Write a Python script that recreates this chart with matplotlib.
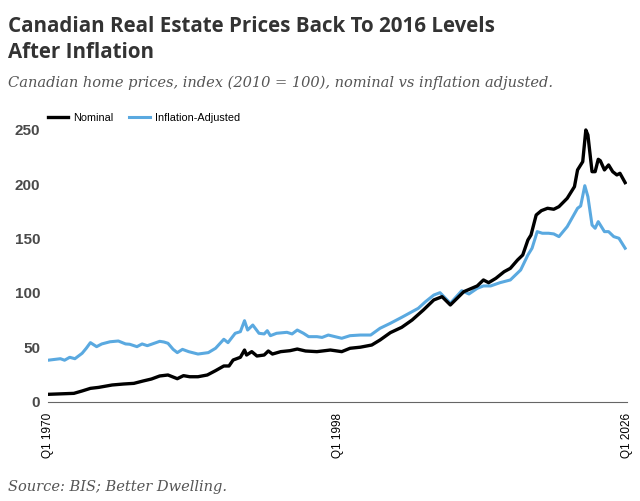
import matplotlib.pyplot as plt

# nominal index (2010 = 100)
nom_t = [1970.0, 1972.5, 1973.3, 1974.1, 1974.9, 1976.2, 1977.3, 1978.3, 1979.2, 1980.0,
         1980.8, 1981.6, 1982.5, 1983.1, 1983.7, 1984.5, 1985.4, 1986.2, 1987.0, 1987.5,
         1987.9, 1988.6, 1989.0, 1989.2, 1989.7, 1990.2, 1990.9, 1991.3, 1991.7, 1992.5,
         1993.4, 1994.1, 1994.9, 1996.0, 1997.3, 1998.4, 1999.2, 2000.2, 2001.3, 2002.1,
         2003.1, 2004.2, 2005.2, 2006.3, 2007.3, 2008.1, 2008.9, 2010.2, 2011.5, 2012.1,
         2012.6, 2013.3, 2014.1, 2014.7, 2015.4, 2015.9, 2016.4, 2016.7, 2017.2, 2017.7,
         2018.3, 2018.9, 2019.4, 2020.2, 2020.9, 2021.2, 2021.7, 2022.0, 2022.2, 2022.6,
         2022.9, 2023.2, 2023.4, 2023.8, 2024.2, 2024.6, 2025.0, 2025.3, 2025.8]
nom_v = [6.6, 7.5, 9.7, 12.1, 13.0, 15.2, 16.1, 16.7, 18.9, 20.7,
         23.5, 24.4, 21.0, 23.8, 22.8, 22.8, 24.4, 28.4, 32.7, 32.7,
         38.2, 40.7, 47.4, 42.8, 45.9, 41.9, 42.8, 46.5, 43.7, 45.9,
         46.8, 48.3, 46.5, 45.9, 47.4, 45.9, 49.0, 50.0, 52.0, 56.6,
         63.4, 68.3, 75.0, 84.3, 93.5, 96.5, 88.9, 101.1, 106.4, 111.9,
         109.4, 113.4, 119.5, 122.6, 130.3, 134.9, 148.7, 153.3, 171.7, 175.7,
         177.9, 177.0, 179.4, 187.1, 197.8, 213.2, 220.8, 250.0, 245.4, 211.6,
         211.6, 223.0, 221.7, 213.2, 217.8, 211.6, 208.6, 210.1, 201.5]

# inflation-adjusted index
adj_t = [1970.0, 1971.2, 1971.6, 1972.1, 1972.6, 1973.3, 1973.7, 1974.1, 1974.7, 1975.2,
         1976.0, 1976.8, 1977.5, 1977.9, 1978.6, 1979.1, 1979.6, 1980.0, 1980.8, 1981.2,
         1981.6, 1982.1, 1982.5, 1983.0, 1983.6, 1984.5, 1985.5, 1986.2, 1987.0, 1987.4,
         1988.1, 1988.6, 1989.0, 1989.3, 1989.8, 1990.4, 1990.9, 1991.2, 1991.5, 1992.1,
         1993.1, 1993.6, 1994.1, 1994.7, 1995.2, 1996.0, 1996.5, 1997.1, 1998.4, 1999.2,
         2000.2, 2001.2, 2002.1, 2003.1, 2004.2, 2005.2, 2005.8, 2006.5, 2007.3, 2007.9,
         2008.9, 2010.0, 2010.7, 2011.5, 2012.1, 2012.8, 2013.7, 2014.7, 2015.7, 2016.4,
         2016.8, 2017.3, 2017.8, 2018.4, 2018.9, 2019.4, 2020.2, 2021.2, 2021.5, 2021.9,
         2022.2, 2022.6, 2022.9, 2023.2, 2023.8, 2024.2, 2024.7, 2025.2, 2025.8]
adj_v = [38.0, 39.4, 38.0, 40.7, 39.4, 44.4, 49.0, 54.2, 50.5, 53.0,
         55.0, 55.7, 53.0, 52.7, 50.5, 53.0, 51.4, 52.7, 55.4, 54.8,
         53.6, 48.0, 45.0, 48.0, 45.9, 43.7, 45.0, 49.0, 57.3, 54.2,
         62.8, 64.3, 74.4, 65.8, 70.4, 62.8, 62.2, 65.2, 60.6, 62.8,
         63.7, 62.2, 65.8, 62.8, 59.7, 59.7, 59.0, 61.2, 58.2, 60.6,
         61.2, 61.2, 67.4, 72.0, 77.5, 82.7, 85.8, 91.9, 98.0, 100.2,
         90.4, 102.0, 99.0, 104.2, 106.4, 106.4, 109.4, 111.9, 121.1, 134.9,
         141.1, 156.4, 154.9, 154.9, 154.3, 151.8, 161.0, 177.9, 180.0, 198.7,
         188.6, 162.5, 159.5, 165.6, 156.4, 156.4, 151.8, 150.3, 141.1]

tick_years = [1970, 1998, 2026]
tick_labels = ["Q1 1970", "Q1 1998", "Q1 2026"]
y_ticks = [0, 50, 100, 150, 200, 250]

fig = plt.figure(figsize=(6.4, 5.01), dpi=100)
ax = fig.add_axes([0.075, 0.1986, 0.905, 0.568])

ax.plot(adj_t, adj_v, color="#5aa9e0", lw=2.2, label="Inflation-Adjusted", solid_joinstyle="round")
ax.plot(nom_t, nom_v, color="black", lw=2.4, label="Nominal", solid_joinstyle="round")

ax.set_xlim(1970, 2026)
ax.set_ylim(0, 262)
ax.set_xticks(tick_years)
ax.set_xticklabels(tick_labels, rotation=90, fontsize=8.5, family="Liberation Sans", va="top")
ax.set_yticks(y_ticks)
ax.set_yticklabels([str(v) for v in y_ticks], fontsize=11, family="Liberation Sans",
                   fontweight="bold", color="#4a4a4a")
ax.tick_params(axis="both", length=0)
ax.tick_params(axis="y", pad=5.5)
ax.tick_params(axis="x", pad=8)
for s in ["top", "right", "left"]:
    ax.spines[s].set_visible(False)
ax.spines["bottom"].set_color("#666666")
ax.spines["bottom"].set_linewidth(0.8)

h, l = ax.get_legend_handles_labels()
fig.legend(h[::-1], l[::-1], loc="center left", bbox_to_anchor=(0.059, 0.7645), ncol=2,
           frameon=False, handlelength=1.9, columnspacing=1.5, handletextpad=0.45,
           prop={"family": "Liberation Sans", "size": 7.8})

fig.text(0.0125, 0.968, "Canadian Real Estate Prices Back To 2016 Levels\nAfter Inflation",
         fontsize=14.8, fontweight="bold", family="Open Sans", color="#333333",
         va="top", ha="left", linespacing=1.3)
fig.text(0.0125, 0.834, "Canadian home prices, index (2010 = 100), nominal vs inflation adjusted.",
         fontsize=10.5, style="italic", family="DejaVu Serif", color="#555555",
         va="center", ha="left")
fig.text(0.0125, 0.028, "Source: BIS; Better Dwelling.",
         fontsize=10.5, style="italic", family="DejaVu Serif", color="#555555",
         va="center", ha="left")

fig.savefig("out.png", dpi=100)
